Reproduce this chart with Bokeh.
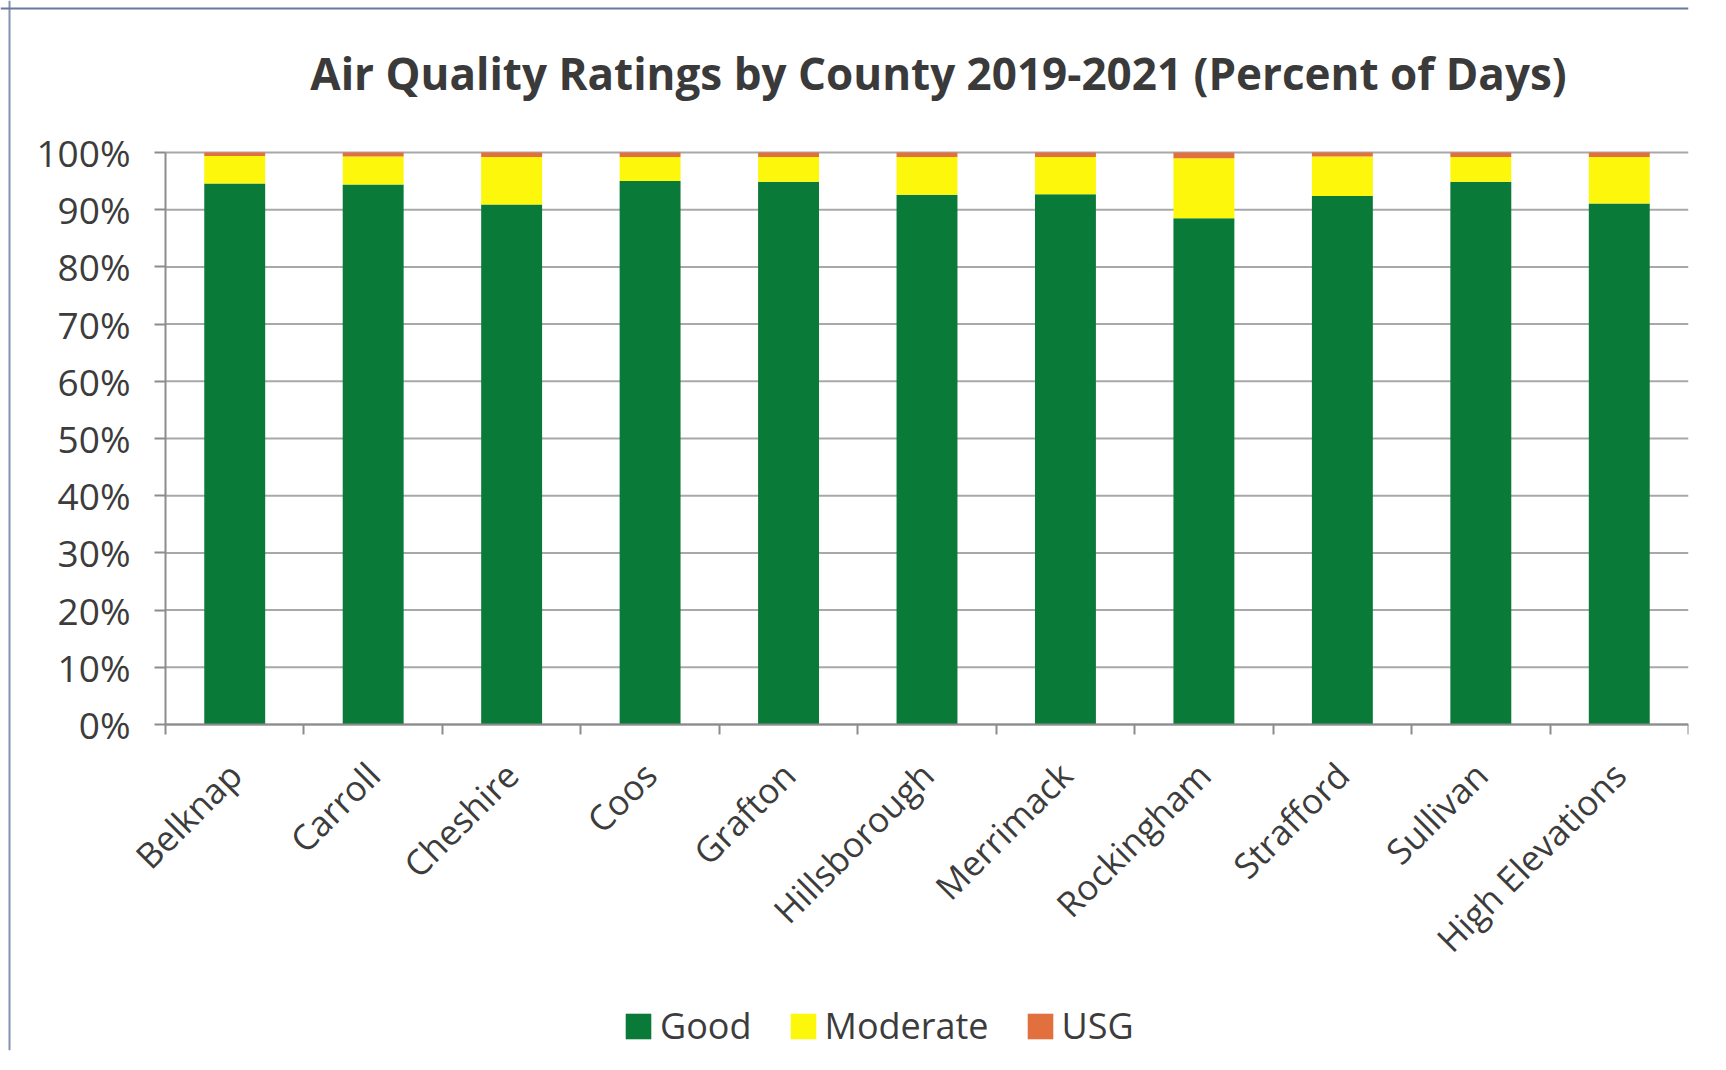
from bokeh.plotting import figure
from bokeh.models import ColumnDataSource, Legend, LegendItem, FixedTicker, Range1d, Label, Span
from bokeh.embed import file_html
from bokeh.resources import INLINE

title_text = "Air Quality Ratings by County 2019-2021 (Percent of Days)"
counties = ["Belknap", "Carroll", "Cheshire", "Coos", "Grafton", "Hillsborough",
            "Merrimack", "Rockingham", "Strafford", "Sullivan", "High Elevations"]
good = [94.6, 94.4, 90.9, 95.0, 94.9, 92.6, 92.7, 88.5, 92.4, 94.9, 91.1]
moderate = [4.8, 4.9, 8.3, 4.2, 4.3, 6.6, 6.5, 10.5, 6.9, 4.3, 8.1]
usg = [0.6, 0.7, 0.8, 0.8, 0.8, 0.8, 0.8, 1.0, 0.7, 0.8, 0.8]
y_ticks = [0, 10, 20, 30, 40, 50, 60, 70, 80, 90, 100]
series = ["Good", "Moderate", "USG"]
colors = ["#0a7a38", "#fdf70c", "#e2703f"]

n = len(counties)
xs = list(range(n))
src = ColumnDataSource(dict(x=xs, Good=good, Moderate=moderate, USG=usg))

# layout (pixels): plot area from x=165 to 1688, y=152 (100%) to 724 (0%)
W, H = 1726, 1070
left_px, right_px, top_px, zero_px, bottom_border = 165, 1688, 152, 724, 20
cat_w = (right_px - left_px) / n
x_start = -0.5 - left_px / cat_w
unit_h = (zero_px - top_px) / 100.0
y_start = -(H - bottom_border - zero_px) / unit_h
y_end = 100 + top_px / unit_h

p = figure(width=W, height=H, output_backend="svg", toolbar_location=None,
           x_range=Range1d(x_start, n - 0.5), y_range=Range1d(y_start, y_end),
           min_border_left=0, min_border_right=W - right_px, min_border_top=0,
           min_border_bottom=bottom_border)

p.outline_line_color = None
p.background_fill_color = "white"
p.border_fill_color = "white"

# thin frame lines of the chart box (left and top)
p.add_layout(Span(location=x_start + 9 / cat_w, dimension="height",
                  line_color="#8591b6", line_width=2))
p.add_layout(Span(location=y_end - 8 / unit_h, dimension="width",
                  line_color="#6a789e", line_width=2))

# horizontal gridlines across the plot area only
p.segment(x0=[-0.5] * len(y_ticks), x1=[n - 0.5] * len(y_ticks), y0=y_ticks, y1=y_ticks,
          line_color="#a8a8a8", line_width=2)

renderers = p.vbar_stack(series, x="x", width=0.44, source=src, color=colors,
                         line_color=None)

title = Label(x=938, y=H - bottom_border - 72, x_units="screen", y_units="screen",
              text=title_text, text_font="Open Sans", text_font_style="bold",
              text_font_size="44px", text_color="#3a3a3a",
              text_align="center", text_baseline="middle")
p.add_layout(title)

# y axis, drawn at the left edge of the category area
p.yaxis.fixed_location = -0.5
p.yaxis.ticker = FixedTicker(ticks=y_ticks)
p.yaxis.bounds = (0, 100)
p.yaxis.major_label_overrides = {t: f"{t}%" for t in y_ticks}
p.yaxis.major_label_text_font = "Open Sans"
p.yaxis.major_label_text_font_size = "37px"
p.yaxis.major_label_text_color = "#3c3c3c"
p.yaxis.axis_line_color = "#8c8c8c"
p.yaxis.axis_line_width = 2
p.yaxis.major_tick_line_color = "#8c8c8c"
p.yaxis.major_tick_line_width = 2
p.yaxis.major_tick_out = 11
p.yaxis.major_tick_in = 0
p.yaxis.minor_tick_line_color = None
p.yaxis.major_label_standoff = 24

# x axis at 0%: labels at centres, ticks between categories
bounds = [i - 0.5 for i in range(n + 1)]
p.xaxis.fixed_location = 0
p.xaxis.bounds = (-0.5, n - 0.5)
p.xaxis.ticker = FixedTicker(ticks=xs, minor_ticks=bounds)
p.xaxis.major_label_overrides = {i: c for i, c in enumerate(counties)}
p.xaxis.major_label_orientation = 0.785398
p.xaxis.major_label_text_font = "Open Sans"
p.xaxis.major_label_text_font_size = "35px"
p.xaxis.major_label_text_color = "#3c3c3c"
p.xaxis.axis_line_color = "#8c8c8c"
p.xaxis.axis_line_width = 2
p.xaxis.major_tick_out = 0
p.xaxis.major_tick_in = 0
p.xaxis.minor_tick_line_color = "#8c8c8c"
p.xaxis.minor_tick_line_width = 2
p.xaxis.minor_tick_out = 10
p.xaxis.minor_tick_in = 0
p.xaxis.major_label_standoff = 34

p.xgrid.visible = False
p.ygrid.visible = False

legend = Legend(items=[LegendItem(label=s, renderers=[r]) for s, r in zip(series, renderers)],
                orientation="horizontal", location=(622, 0))
legend.label_text_font = "Open Sans"
legend.label_text_font_size = "36px"
legend.label_text_color = "#3c3c3c"
legend.glyph_width = 32
legend.glyph_height = 32
legend.label_standoff = 6
legend.spacing = 35
legend.padding = 0
legend.margin = 0
legend.border_line_color = None
legend.background_fill_alpha = 0
p.add_layout(legend, "center")

open("out.html", "w").write(file_html(p, INLINE))
